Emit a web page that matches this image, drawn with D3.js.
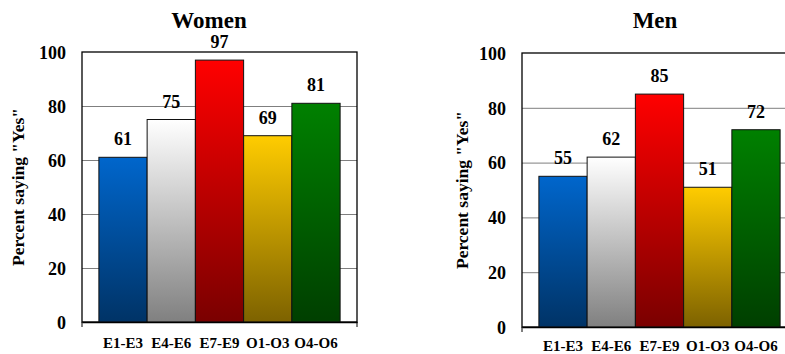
<!DOCTYPE html>
<html>
<head>
<meta charset="utf-8">
<script src="https://cdn.jsdelivr.net/npm/d3@7"></script>
<style>
  body { margin: 0; background: #fff; }
  svg { display: block; }
</style>
</head>
<body>
<svg width="785" height="354"></svg>
<script>
const categories = ["E1-E3", "E4-E6", "E7-E9", "O1-O3", "O4-O6"]
const women = [61, 75, 97, 69, 81]
const men = [55, 62, 85, 51, 72]
const yTicks = [0, 20, 40, 60, 80, 100]
const topColors = ["#0066cc", "#ffffff", "#ff0000", "#ffcc00", "#008000"]
const bottomColors = ["#003366", "#808080", "#7a0000", "#7d6200", "#003f00"]
const serif = '"Liberation Serif", "Times New Roman", Times, serif'

const svg = d3.select("svg")

// gradients, one per category
const defs = svg.append("defs")
categories.forEach((c, i) => {
	const g = defs.append("linearGradient").attr("id", "grad" + i)
		.attr("x1", 0).attr("y1", 0).attr("x2", 0).attr("y2", 1)
	g.append("stop").attr("offset", "0%").attr("stop-color", topColors[i])
	g.append("stop").attr("offset", "100%").attr("stop-color", bottomColors[i])
})

function drawChart(title, values, o){
	const x = d3.scaleBand().domain(categories).range([o.left, o.right]).paddingInner(0).paddingOuter(0.35)
	const y = d3.scaleLinear().domain([0, 100]).range([o.bottom, o.top])
	const w = o.right - o.left
	const g = svg.append("g").attr("font-family", serif).attr("font-weight", "bold")

	// gridlines
	g.append("g").attr("transform", `translate(${o.left},0)`)
		.call(d3.axisLeft(y).tickValues(yTicks.slice(1, -1)).tickSize(-w).tickFormat(""))
		.call(a => a.select(".domain").remove())
		.selectAll("line").attr("stroke", "#7f7f7f")

	// frame
	g.append("rect").attr("x", o.left).attr("y", o.top).attr("width", w).attr("height", o.bottom - o.top)
		.attr("fill", "none").attr("stroke", "#000").attr("stroke-width", 1.3)

	// tick labels
	g.append("g").attr("transform", `translate(${o.left},0)`)
		.call(d3.axisLeft(y).tickValues(yTicks).tickSize(0).tickPadding(16))
		.attr("font-family", serif).attr("font-size", 18)
		.call(a => a.select(".domain").remove())
		.selectAll("text").attr("fill", "#000").attr("dy", "0.35em")

	// bars
	g.selectAll("rect.bar").data(values).enter().append("rect")
		.attr("class", "bar")
		.attr("x", (d, i) => x(categories[i]))
		.attr("y", d => y(d))
		.attr("width", x.bandwidth())
		.attr("height", d => y(0) - y(d))
		.attr("fill", (d, i) => `url(#grad${i})`)
		.attr("stroke", "#111").attr("stroke-width", 1)

	// value labels
	g.selectAll("text.val").data(values).enter().append("text")
		.attr("class", "val")
		.attr("x", (d, i) => x(categories[i]) + x.bandwidth() / 2)
		.attr("y", d => y(d) - 12)
		.attr("text-anchor", "middle")
		.attr("font-size", 18)
		.text(d => d)

	// x axis
	const xa = g.append("g").attr("transform", `translate(0,${o.bottom})`)
		.call(d3.axisBottom(x).tickSize(0).tickPadding(o.catPad))
		.attr("font-family", serif).attr("font-size", 15)
	xa.select(".domain").attr("stroke", "#000").attr("stroke-width", 1.6)
	xa.selectAll("text").attr("fill", "#000")
	g.selectAll("line.endtick").data(x.range()).enter().append("line")
		.attr("class", "endtick")
		.attr("x1", d => d).attr("x2", d => d)
		.attr("y1", o.bottom).attr("y2", o.bottom + 5)
		.attr("stroke", "#000")

	// y label
	g.append("text")
		.attr("transform", `translate(${o.ylabX},${o.ylabY}) rotate(-90)`)
		.attr("text-anchor", "middle")
		.attr("font-size", 17.5)
		.text('Percent saying "Yes"')

	// title
	g.append("text").attr("x", o.titleX).attr("y", 28)
		.attr("text-anchor", "middle")
		.attr("font-size", 23)
		.text(title)
}

drawChart("Women", women, { left: 82, right: 357, top: 52, bottom: 322, catPad: 15, ylabX: 24, ylabY: 187, titleX: 209 })
drawChart("Men", men, { left: 522, right: 797, top: 53, bottom: 327, catPad: 13, ylabX: 468, ylabY: 190, titleX: 655 })
</script>
</body>
</html>
